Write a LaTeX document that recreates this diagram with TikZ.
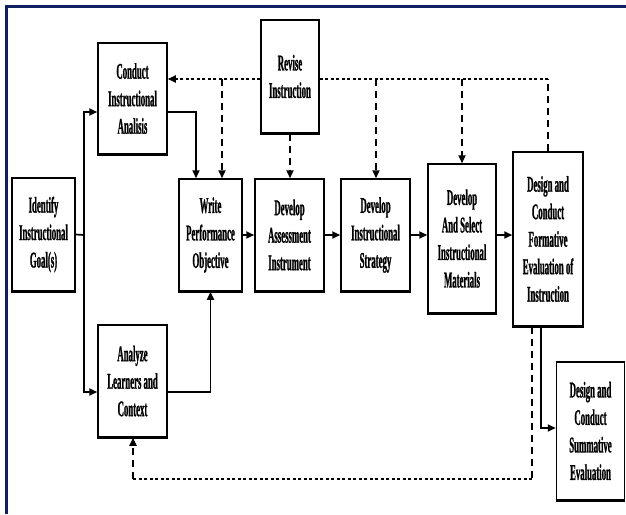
\documentclass[tikz,border=0pt]{standalone}
\usepackage{fontspec}
\newfontfamily\stagefont{Liberation Serif}[FakeStretch=0.39, BoldFeatures={FakeBold=0.8}]
\usetikzlibrary{arrows.meta}
\definecolor{framenavy}{RGB}{16,32,96}

\tikzset{
	stage/.style={draw, line width=1.5pt, align=center, inner sep=0pt,
		font=\stagefont\bfseries\fontsize{22.5}{27.5}\selectfont,
		append after command={(\tikzlastnode.south west) edge[line width=3.2pt] (\tikzlastnode.south east)}},
	headed/.style={-{Triangle[length=8pt,width=7pt]}},
	flow/.style={line width=1.7pt, headed},
	plain/.style={line width=1.7pt},
	feedh/.style={line width=1.7pt, dash pattern=on 3pt off 2.5pt},
	feedv/.style={line width=1.7pt, dash pattern=on 7pt off 5pt},
}

\begin{document}
\begin{tikzpicture}[x=1pt, y=-1pt]
		\useasboundingbox (0,0) rectangle (626,514);
		\draw[framenavy, line width=3pt] (6,514) -- (6,6) -- (626,6);

		% stages
		\node[stage, minimum width=63pt, minimum height=113pt] (goal) at (43.5,234.5) {Identify\\Instructional\\Goal(s)};
		\node[stage, minimum width=69pt, minimum height=111pt] (analysis) at (132.5,98.5) {Conduct\\Instructional\\Analisis};
		\node[stage, minimum width=69pt, minimum height=112pt] (learners) at (132.5,381) {Analyze\\Learners and\\Context};
		\node[stage, minimum width=58pt, minimum height=113pt] (revise) at (290,76.5) {Revise\\Instruction};
		\node[stage, minimum width=63pt, minimum height=112pt] (objective) at (210.5,235) {Write\\Performance\\Objective};
		\node[stage, minimum width=69pt, minimum height=112pt] (assess) at (289.5,235) {Develop\\Assessment\\Instrument};
		\node[stage, minimum width=69pt, minimum height=112pt] (strategy) at (375.5,235) {Develop\\Instructional\\Strategy};
		\node[stage, minimum width=68pt, minimum height=149pt] (materials) at (462,238.5) {Develop\\And Select\\Instructional\\Materials};
		\node[stage, minimum width=70pt, minimum height=174pt] (formative) at (548,239) {Design and\\Conduct\\Formative\\Evaluation of\\Instruction};
		\node[stage, minimum width=68pt, minimum height=138pt] (summative) at (590.5,431) {Design and\\Conduct\\Summative\\Evaluation};

		% main flow
		\coordinate (split) at (84,235);
		\draw[plain] (goal.east) -- (split);
		\draw[flow] (split) |- ([yshift=-13.5pt]analysis.west);
		\draw[flow] (split) |- ([yshift=-11pt]learners.west);
		\draw[flow] ([yshift=-13.5pt]analysis.east) -| ([xshift=-14.5pt]objective.north);
		\draw[flow] ([yshift=-11pt]learners.east) -| (objective.south);
		\draw[flow] (objective) -- (assess);
		\draw[flow] (assess) -- (strategy);
		\draw[flow] (strategy.east) -- (strategy.east -| materials.west);
		\draw[flow] (strategy.east -| materials.east) -- (strategy.east -| formative.west);
		\draw[flow] ([xshift=-7pt]formative.south) |- ([yshift=3pt]summative.west);

		% revision loop
		\coordinate (fbturn) at (548,79);
		\coordinate (fbobj) at (222,79);
		\coordinate (fbstr) at (376,79);
		\coordinate (fbmat) at (462,79);
		\draw[feedv] (formative.north) -- (fbturn);
		\draw[feedh] (fbturn) -- ([yshift=-2.5pt]revise.east);
		\draw[feedh, headed] ([yshift=-2.5pt]revise.west) -- ([yshift=19.5pt]analysis.east);
		\draw[feedv, headed] (fbobj) -- (fbobj |- objective.north);
		\draw[feedv, headed] (revise.south) -- (revise.south |- assess.north);
		\draw[feedv, headed] (fbstr) -- (fbstr |- strategy.north);
		\draw[feedv, headed] (fbmat) -- (materials.north);

		\coordinate (fbdown) at (532,479);
		\coordinate (fbleft) at (133,479);
		\draw[feedv] ([xshift=-16pt]formative.south) -- (fbdown);
		\draw[feedh] (fbdown) -- (fbleft);
		\draw[feedv, headed] (fbleft) -- (fbleft |- learners.south);
\end{tikzpicture}
\end{document}
